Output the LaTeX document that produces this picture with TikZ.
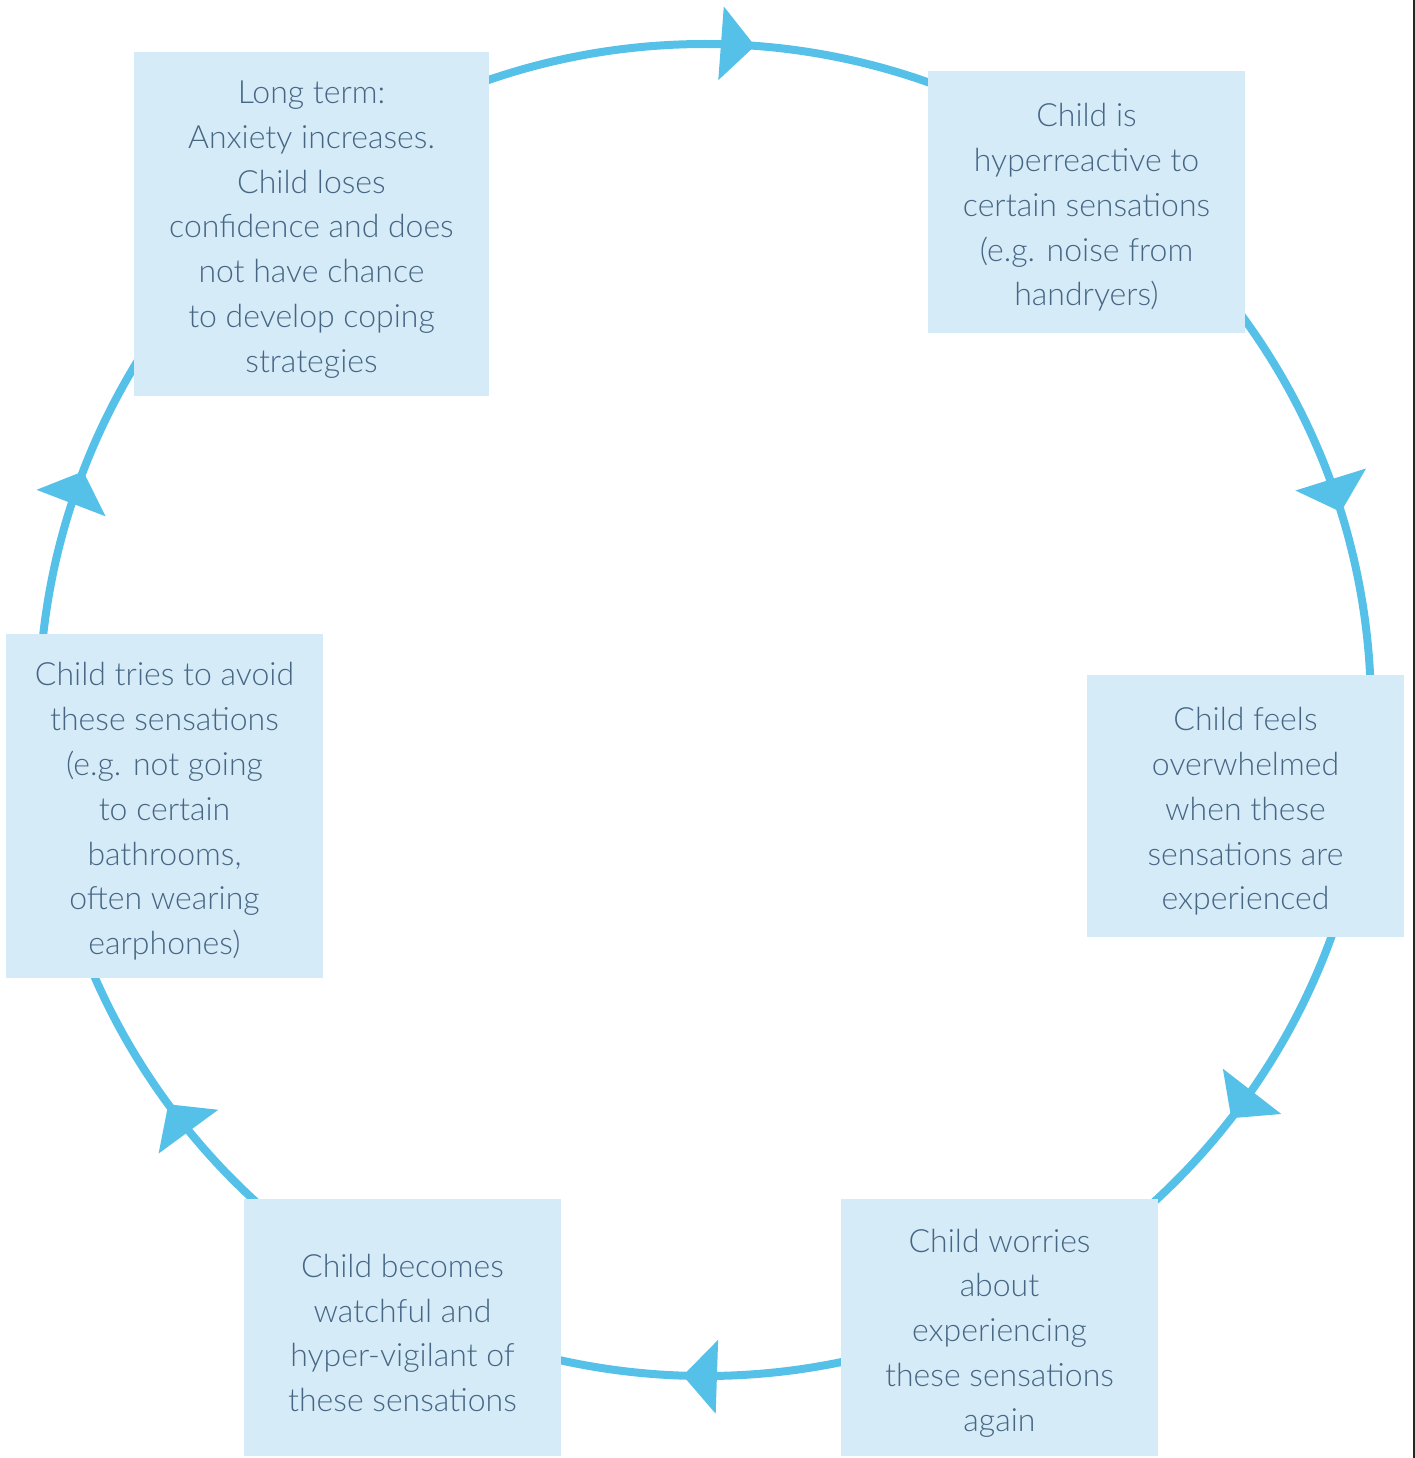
\documentclass[tikz,border=0pt]{standalone}
\usepackage{fontspec}
\setmainfont{Lato}[UprightFont={* Light}]
\usetikzlibrary{calc}
\definecolor{ringc}{RGB}{86,193,232}
\definecolor{boxfill}{RGB}{214,235,248}
\definecolor{txt}{RGB}{70,102,132}
\newcommand\stagetxt[1]{\parbox{300pt}{\vspace*{11pt}\centering #1}}
\tikzset{
  stage/.style={rectangle, fill=boxfill, inner sep=0pt, text=txt,
    font=\fontsize{32}{44.8}\selectfont},
  ring/.style={draw=ringc, line width=8pt},
  tiphead/.style={fill=ringc},
}
\newcommand\cyclearrow[2]{%
  \pgfmathsetmacro\aback{#2+90}%
  \pgfmathsetmacro\ain{#2+180}%
  \coordinate (#1) at ($(C)+(#2:666)$);
  \fill[tiphead] (#1) -- ($(#1)+(\aback:34)+(#2:37)$) -- ($(#1)+(\aback:34)+(\ain:37)$) -- cycle;}
\begin{document}
\begin{tikzpicture}[x=1pt,y=1pt]
\useasboundingbox (0,0) rectangle (1415,-1458);
\coordinate (C) at (705,-710);
\draw[ring] (C) circle (666);
\cyclearrow{a1}{85.7}
\cyclearrow{a2}{17.3}
\cyclearrow{a3}{-37.8}
\cyclearrow{a4}{-91.9}
\cyclearrow{a5}{216.3}
\cyclearrow{a6}{159}
\node[stage, minimum width=355pt, minimum height=344pt] (longterm) at (311.5,-224)
  {\stagetxt{Long term:\\Anxiety increases.\\Child loses\\confidence and does\\not have chance\\to develop coping\\strategies}};
\node[stage, minimum width=317pt, minimum height=262pt] (hyper) at (1086.5,-202)
  {\stagetxt{Child is\\hyperreactive to\\certain sensations\\(e.g. noise from\\handryers)}};
\node[stage, minimum width=317pt, minimum height=262pt] (overw) at (1245.5,-806)
  {\stagetxt{Child feels\\overwhelmed\\when these\\sensations are\\experienced}};
\node[stage, minimum width=317pt, minimum height=257pt] (worry) at (999.5,-1327.5)
  {\stagetxt{Child worries\\about\\experiencing\\these sensations\\again}};
\node[stage, minimum width=317pt, minimum height=257pt] (watch) at (402.5,-1327.5)
  {\stagetxt{Child becomes\\watchful and\\hyper-vigilant of\\these sensations}};
\node[stage, minimum width=317pt, minimum height=344pt] (avoid) at (164.5,-806)
  {\stagetxt{Child tries to avoid\\these sensations\\(e.g. not going\\to certain\\bathrooms,\\often wearing\\earphones)}};
\draw[line width=2pt, black!85] (1413.5,0) -- (1413.5,-1458);
\end{tikzpicture}
\end{document}
